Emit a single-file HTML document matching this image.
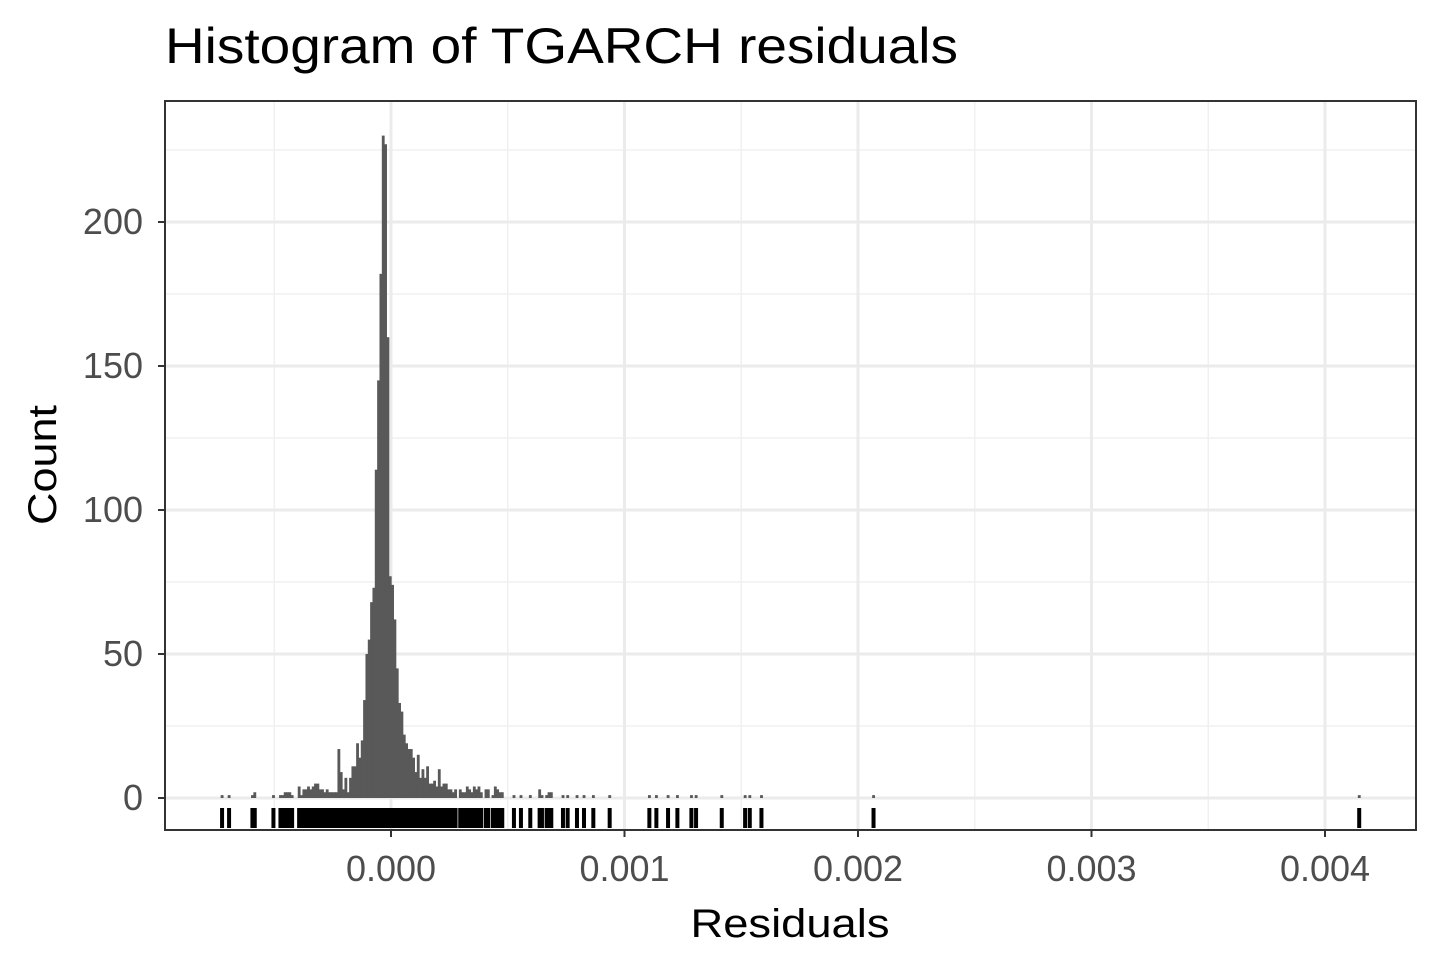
<!DOCTYPE html>
<html>
<head>
<meta charset="utf-8">
<style>
  html,body{margin:0;padding:0;background:#fff;}
  svg{display:block;font-family:"Liberation Sans",Arial,sans-serif;}
</style>
</head>
<body>
<svg id="chart" width="1440" height="960" viewBox="0 0 1440 960">
  <rect x="0" y="0" width="1440" height="960" fill="#fff"/>
  <text x="165" y="63" font-size="50" fill="#000" textLength="793" lengthAdjust="spacingAndGlyphs">Histogram of TGARCH residuals</text>
  <g id="grid"></g>
  <g id="bars"></g>
  <g id="rug"></g>
  <rect x="165" y="101" width="1251" height="729" fill="none" stroke="#333" stroke-width="2"/>
  <g id="axes"></g>
  <text x="790" y="937" font-size="40" fill="#000" text-anchor="middle" textLength="199" lengthAdjust="spacingAndGlyphs">Residuals</text>
  <text transform="translate(56,465) rotate(-90)" font-size="40" fill="#000" text-anchor="middle" textLength="120" lengthAdjust="spacingAndGlyphs">Count</text>
</svg>
<script>
// bin layout
const binStart = -0.0007385;
const binWidth = 0.00001;
// histogram data: bin index and count
const binIndex = [1,4,14,15,23,26,27,28,29,30,31,34,35,36,37,38,39,40,41,42,43,44,45,46,47,48,49,50,
  51,52,53,54,55,56,57,58,59,60,61,62,63,64,65,66,67,68,69,70,71,72,73,74,75,76,77,78,79,80,
  81,82,83,84,85,86,87,88,89,90,91,92,93,94,95,96,97,98,99,100,101,103,104,105,106,107,108,109,110,
  111,112,114,115,117,118,119,120,121,126,129,133,137,138,140,141,142,147,149,153,156,160,167,
  184,187,192,196,202,204,215,225,227,232,280,488];
const binCount = [1,1,1,2,1,1,1,2,2,2,1,4,1,3,3,4,3,4,5,5,3,3,2,3,2,2,2,2,
  17,9,3,7,2,7,11,11,19,14,20,34,50,55,68,73,114,145,182,230,227,160,77,74,62,45,33,30,22,19,
  17,17,14,9,15,7,10,7,11,5,5,6,4,10,4,5,5,3,3,2,3,3,2,2,4,3,2,4,3,
  4,2,3,3,1,4,3,2,2,1,1,1,3,1,1,2,2,1,1,1,1,1,1,
  1,1,1,1,1,1,1,1,1,1,1,1];
const yTicks = [0,50,100,150,200];
const yMinor = [25,75,125,175,225];
const xTicks = [0,0.001,0.002,0.003,0.004];
const xTickLabels = ["0.000","0.001","0.002","0.003","0.004"];
const xMinor = [-0.0005,0.0005,0.0015,0.0025,0.0035];

const NS = "http://www.w3.org/2000/svg";
const X = v => 391 + v * 233500;
const Y = c => 798 - c * 2.88;
const panel = {l:165, r:1416, t:101, b:830};
function mk(tag, attrs, parent){
  const el = document.createElementNS(NS, tag);
  for (const k in attrs) el.setAttribute(k, attrs[k]);
  parent.appendChild(el);
  return el;
}
const grid = document.getElementById('grid');
const bars = document.getElementById('bars');
const rug = document.getElementById('rug');
const axes = document.getElementById('axes');

yMinor.forEach(v => {
  const el = mk('line', {x1:panel.l, x2:panel.r, y1:Y(v), y2:Y(v), stroke:'#f0f0f0', 'stroke-width':1.4}, grid);
  
  
});
xMinor.forEach(v => {
  const el = mk('line', {x1:X(v), x2:X(v), y1:panel.t, y2:panel.b, stroke:'#f0f0f0', 'stroke-width':1.4}, grid);
  
  
});
yTicks.forEach(v => {
  const el = mk('line', {x1:panel.l, x2:panel.r, y1:Y(v), y2:Y(v), stroke:'#ebebeb', 'stroke-width':3}, grid);
  
  
  const t = mk('line', {x1:158, x2:165, y1:Y(v), y2:Y(v), stroke:'#333', 'stroke-width':2}, axes);
  
  
  const lab = mk('text', {x:143, y:Y(v)+12, 'font-size':36, fill:'#4d4d4d', 'text-anchor':'end'}, axes);
  lab.textContent = String(v);
  
  
});
xTicks.forEach((v, i) => {
  const el = mk('line', {x1:X(v), x2:X(v), y1:panel.t, y2:panel.b, stroke:'#ebebeb', 'stroke-width':3}, grid);
  
  
  const t = mk('line', {x1:X(v), x2:X(v), y1:830, y2:837, stroke:'#333', 'stroke-width':2}, axes);
  
  
  const lab = mk('text', {x:X(v), y:881, 'font-size':36, fill:'#4d4d4d', 'text-anchor':'middle'}, axes);
  lab.textContent = xTickLabels[i];
  
  
});
binIndex.forEach((k, i) => {
  const v0 = binStart + k * binWidth;
  const x0 = X(v0), x1 = X(v0 + binWidth);
  const c = binCount[i];
  const b = mk('rect', {x:x0 - 0.2, y:Y(c), width:x1 - x0 + 0.5, height:Y(0) - Y(c), fill:'#595959'}, bars);
  
  
  const xc = (x0 + x1) / 2;
  const r = mk('rect', {x:xc - 2, y:808, width:4, height:20, fill:'#000'}, rug);
  
  
});
</script>
</body>
</html>
